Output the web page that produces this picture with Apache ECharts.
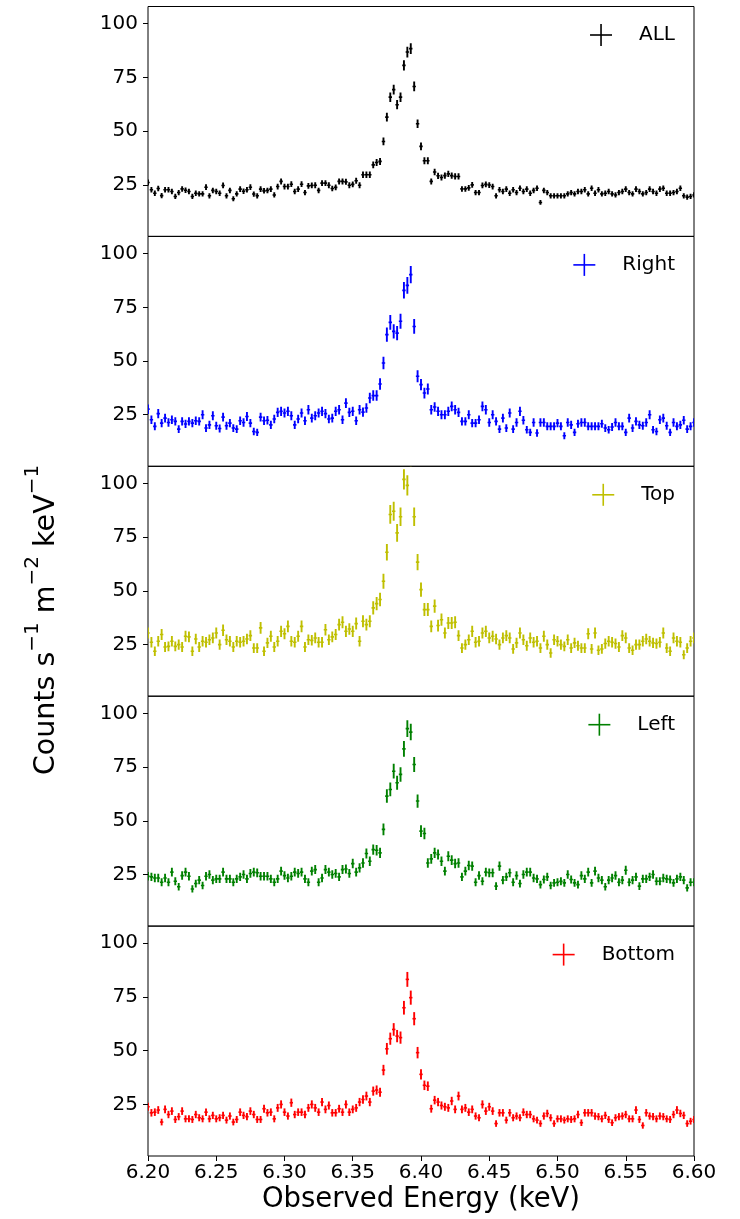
<!DOCTYPE html>
<html>
<head>
<meta charset="utf-8">
<script src="https://cdn.jsdelivr.net/npm/echarts@6/dist/echarts.min.js"></script>
<style>
  html, body { margin: 0; padding: 0; background: #ffffff; }
  #chart { width: 740px; height: 1219px; }
</style>
</head>
<body>
<div id="chart"></div>
<script>
// Energy grid: bin centres from 6.2 to 6.6 keV in 2.5 eV steps
const E_START = 6.2;
const BIN_WIDTH = 0.0025;
const N_BINS = 161;
const energies = Array.from({ length: N_BINS }, (_, i) => +(E_START + i * BIN_WIDTH).toFixed(4));

const xTickLabels = ['6.20', '6.25', '6.30', '6.35', '6.40', '6.45', '6.50', '6.55', '6.60'];
const yTickValues = [25, 50, 75, 100];

const panelNames = ['ALL', 'Right', 'Top', 'Left', 'Bottom'];
const panelColors = ['#000000', '#0000ff', '#bfbf00', '#008000', '#ff0000'];
// 1-sigma scale per region (error = scale * sqrt(flux))
const errScale = [0.27, 0.42, 0.47, 0.40, 0.38];

// Flux spectra, counts s^-1 m^-2 keV^-1
const fluxAll = [
  26.1,22.7,21.1,23.3,20.0,22.7,22.7,21.9,19.6,21.4, 23.1,22.5,21.9,19.6,21.1,20.8,20.8,23.9,19.9,22.4,
  21.9,21.1,24.7,19.9,22.4,18.5,20.8,23.0,22.0,22.7, 23.9,20.7,19.9,23.0,22.2,22.4,23.0,20.3,24.2,26.6,
  24.2,24.2,25.3,21.9,23.0,25.3,21.4,24.5,24.7,24.8, 22.4,25.8,25.8,24.8,23.3,23.8,26.6,26.6,26.4,24.8,
  25.2,26.9,24.8,29.7,29.7,29.7,34.3,35.4,35.9,45.2, 56.5,65.8,69.3,62.3,65.8,80.6,86.8,88.4,70.8,53.4,
  42.9,36.2,36.2,26.6,31.0,29.2,28.4,29.3,30.1,29.3, 28.9,28.9,23.1,23.1,23.6,25.0,21.4,21.4,24.7,25.2,
  24.9,24.2,19.9,22.7,21.9,23.0,21.1,22.7,21.4,23.4, 21.9,23.0,21.1,22.4,23.4,16.8,22.4,21.4,19.9,19.9,
  19.9,19.9,19.9,20.8,21.4,20.8,21.9,21.9,22.7,20.8, 23.4,21.1,22.7,20.8,21.1,21.9,20.8,20.3,21.4,21.9,
  23.0,21.4,20.8,23.0,21.9,20.8,21.4,23.0,21.9,21.1, 23.0,23.4,21.1,21.1,21.4,21.9,23.4,19.9,19.3,19.6,
  20.3
];
const fluxRight = [
  27.6,22.7,19.6,25.5,21.1,23.4,21.4,22.7,21.9,18.3, 21.9,20.7,21.9,21.1,22.2,21.9,25.0,18.8,20.3,24.5,
  19.9,18.6,23.9,19.9,21.1,18.8,18.3,22.2,21.4,24.2, 21.1,17.2,16.8,23.9,22.2,22.4,20.3,23.0,26.1,26.6,
  25.8,26.6,24.5,20.3,23.0,25.8,22.2,27.3,23.4,24.5, 25.8,26.6,25.5,23.0,23.4,26.6,27.3,22.7,30.4,26.1,
  26.6,22.2,27.3,26.2,28.1,32.8,33.9,33.9,39.3,49.1, 62.3,68.0,63.8,63.0,68.5,82.9,85.2,90.2,66.1,42.9,
  39.0,35.1,37.0,27.3,28.6,26.6,25.0,25.0,26.6,28.9, 27.3,26.1,21.9,21.9,25.0,21.1,21.1,22.7,28.9,27.3,
  21.4,25.0,21.9,18.3,23.4,18.8,25.8,18.3,21.4,26.6, 22.4,18.0,16.8,21.4,16.5,21.4,21.4,19.6,19.6,19.6,
  21.1,19.6,15.2,21.4,20.3,16.8,20.8,21.4,21.4,19.6, 19.6,19.6,19.6,20.8,18.8,18.0,19.3,21.4,19.6,19.6,
  16.8,23.4,18.8,21.9,20.3,19.9,21.4,25.0,18.0,17.2, 22.7,23.4,19.9,16.8,21.4,19.6,20.3,22.4,18.3,19.6,
  21.4
];
const fluxTop = [
  30.4,26.1,21.9,26.6,29.7,23.9,24.2,26.6,24.2,25.0, 23.9,28.9,28.6,21.9,27.6,23.9,26.6,26.1,27.3,28.1,
  30.4,25.0,31.7,27.3,26.6,23.9,26.6,26.1,26.6,27.6, 29.2,23.4,23.4,32.8,21.9,25.8,28.9,23.9,26.6,31.2,
  30.1,33.5,26.6,26.1,28.9,33.5,23.9,27.3,27.0,28.1, 26.1,26.1,31.9,27.3,28.6,29.7,34.3,35.4,31.2,32.3,
  31.2,34.8,26.6,35.9,34.3,35.9,42.1,44.1,46.0,54.5, 68.0,85.6,87.1,77.0,84.5,101.9,99.1,113.0,84.5,63.4,
  50.6,41.3,41.3,33.5,42.9,33.9,36.6,30.4,35.1,35.1, 35.4,29.2,23.4,25.0,27.3,31.2,26.1,26.6,30.4,31.2,
  28.1,28.9,27.6,25.0,28.1,29.2,28.1,23.0,25.8,30.4, 27.3,24.5,28.1,26.1,26.6,23.4,28.9,25.0,21.1,27.3,
  26.6,25.0,24.2,27.3,23.4,25.8,24.5,23.4,23.4,30.1, 23.0,30.4,22.4,23.0,25.5,26.6,26.1,25.5,23.9,29.2,
  28.1,23.4,22.4,25.0,25.0,26.6,27.6,26.6,25.8,25.5, 26.1,30.4,23.4,21.9,28.1,26.6,26.1,20.3,23.4,26.6,
  28.1
];
const fluxLeft = [
  24.2,23.9,23.4,23.4,21.4,23.4,21.4,26.1,21.9,19.3, 24.5,26.1,24.2,18.3,20.8,22.4,19.9,24.2,25.0,22.4,
  23.0,23.0,26.1,23.0,23.0,21.4,23.0,23.9,25.0,23.0, 25.5,26.1,25.8,24.2,24.2,24.2,23.0,21.4,23.0,26.6,
  24.5,23.4,24.2,26.1,25.5,26.1,23.0,21.4,26.6,27.3, 21.4,23.4,27.3,26.1,25.0,25.5,23.9,27.3,27.6,25.5,
  30.1,26.1,28.1,30.4,34.8,31.2,36.6,36.3,35.1,46.0, 61.5,64.6,73.1,67.7,71.6,83.5,92.9,91.3,76.2,59.2,
  45.2,44.1,30.4,32.3,35.1,34.3,31.2,26.6,33.5,31.7, 30.1,30.4,23.9,26.6,29.2,28.9,21.4,24.5,21.9,26.1,
  25.8,25.8,19.6,28.9,22.4,23.9,25.8,21.4,24.5,20.8, 25.0,26.1,26.1,23.4,23.0,20.3,22.7,23.9,19.9,21.1,
  21.4,21.9,21.1,25.0,22.7,21.1,20.3,24.5,23.0,26.1, 21.1,26.6,23.4,22.4,19.3,22.4,23.4,24.5,21.4,22.4,
  27.0,21.4,22.4,23.9,19.6,23.0,23.0,23.9,25.0,21.9, 21.9,23.4,23.0,22.7,21.1,23.0,23.9,22.4,18.8,21.4,
  21.4
];
const fluxBottom = [
  23.9,21.1,21.4,22.4,16.8,22.7,20.3,21.9,18.0,19.3, 21.9,18.3,18.3,18.0,20.3,18.8,18.3,21.4,18.3,19.9,
  18.3,18.8,19.9,17.7,19.6,16.8,18.0,21.4,19.9,19.3, 21.9,20.3,18.0,18.0,23.0,21.1,21.4,18.3,23.4,25.0,
  21.4,19.6,25.8,20.3,21.4,21.4,20.3,23.4,25.0,23.4, 21.4,26.1,22.7,24.5,21.1,21.1,23.0,21.4,25.0,21.4,
  22.7,23.4,26.1,27.3,28.9,26.1,31.2,31.7,30.7,41.0, 50.9,55.6,59.9,56.8,56.1,70.0,83.2,74.7,64.9,49.1,
  39.0,33.9,33.5,23.0,27.0,26.1,24.5,23.9,23.4,26.6, 22.7,28.9,22.7,23.4,21.4,22.7,19.6,18.8,25.0,21.9,
  23.9,21.9,16.1,21.1,21.1,17.7,21.1,18.8,19.6,18.8, 21.4,20.3,20.3,18.3,17.7,16.1,19.6,20.8,18.8,16.1,
  18.3,18.3,17.7,18.3,18.0,18.3,20.3,16.5,21.1,21.1, 21.1,19.6,19.3,18.3,19.9,18.0,16.5,18.8,19.3,19.6,
  20.3,18.3,18.3,22.4,18.0,15.2,21.1,19.6,19.3,18.3, 19.6,19.3,18.3,18.0,20.3,22.4,20.8,19.9,16.1,17.2,
  18.0
];
const panelFlux = [fluxAll, fluxRight, fluxTop, fluxLeft, fluxBottom];

// ---- layout ----
const FONT = 'DejaVu Sans';
const GRID_LEFT = 148;
const GRID_RIGHT_EDGE = 694;
const GRID_TOP0 = 6.5;
const PANEL_H = 229.9;
const Y_MIN = 1, Y_MAX = 108;
const BAR_WIDTH = 1.9;

const chart = echarts.init(document.getElementById('chart'), null, { renderer: 'canvas' });

const grids = [], xAxes = [], yAxes = [], series = [], graphics = [];

function measure(text, size) {
  const c = document.createElement('canvas').getContext('2d');
  c.font = size + 'px "' + FONT + '"';
  return c.measureText(text).width;
}

panelNames.forEach((name, p) => {
  const top = GRID_TOP0 + p * PANEL_H;
  const isLast = p === panelNames.length - 1;
  grids.push({
    left: GRID_LEFT, width: GRID_RIGHT_EDGE - GRID_LEFT, top: top, height: PANEL_H,
    show: true, borderColor: '#000', borderWidth: 1, backgroundColor: 'transparent'
  });
  xAxes.push({
    type: 'value', gridIndex: p, min: 6.2, max: 6.6, interval: 0.05,
    axisLine: { show: false },
    splitLine: { show: false },
    axisTick: { show: isLast, length: 5, lineStyle: { color: '#000', width: 1 } },
    axisLabel: {
      show: isLast, fontSize: 20, fontFamily: FONT, color: '#000', margin: 7,
      formatter: v => xTickLabels[Math.round((v - 6.2) / 0.05)] || ''
    }
  });
  yAxes.push({
    type: 'value', gridIndex: p, min: Y_MIN, max: Y_MAX,
    axisLine: { show: false },
    splitLine: { show: false },
    axisTick: { show: true, length: 5, customValues: yTickValues, lineStyle: { color: '#000', width: 1 } },
    axisLabel: { show: true, customValues: yTickValues, fontSize: 20, fontFamily: FONT, color: '#000', margin: 10 }
  });

  const color = panelColors[p];
  const data = panelFlux[p].map((v, i) => [energies[i], v, errScale[p] * Math.sqrt(v)]);
  series.push({
    type: 'custom', name: name, xAxisIndex: p, yAxisIndex: p, clip: true,
    data: data,
    renderItem: function (params, api) {
      const x = api.value(0), y = api.value(1), e = api.value(2);
      const h0 = api.coord([x - BIN_WIDTH / 2, y]);
      const h1 = api.coord([x + BIN_WIDTH / 2, y]);
      const v0 = api.coord([x, y - e]);
      const v1 = api.coord([x, y + e]);
      return {
        type: 'group',
        children: [
          { type: 'line', shape: { x1: h0[0], y1: h0[1], x2: h1[0], y2: h1[1] }, style: { stroke: color, lineWidth: 1.6 } },
          { type: 'line', shape: { x1: v0[0], y1: v0[1], x2: v1[0], y2: v1[1] }, style: { stroke: color, lineWidth: BAR_WIDTH } }
        ]
      };
    },
    silent: true, animation: false
  });

  // legend: error-bar cross followed by the region name
  const textRight = 675;
  const cy = top + 28.5;
  const tw = measure(name, 20);
  const cx = textRight - tw - 38;
  graphics.push(
    { type: 'line', shape: { x1: cx - 11, y1: cy, x2: cx + 11, y2: cy }, style: { stroke: color, lineWidth: 1.6 } },
    { type: 'line', shape: { x1: cx, y1: cy - 11, x2: cx, y2: cy + 11 }, style: { stroke: color, lineWidth: 1.6 } },
    { type: 'text', x: textRight, y: cy, style: { text: name, fontSize: 20, fontFamily: FONT, fill: '#000', align: 'right', verticalAlign: 'middle' } }
  );
});

// axis titles
graphics.push({
  type: 'text', x: (GRID_LEFT + GRID_RIGHT_EDGE) / 2, y: 1200,
  style: { text: 'Observed Energy (keV)', fontSize: 27.5, fontFamily: FONT, fill: '#000', align: 'center', verticalAlign: 'middle' }
});
graphics.push({
  type: 'text', x: 42, y: 620, rotation: Math.PI / 2,
  style: {
    text: '{a|Counts s}{b|\u22121}{a| m}{b|\u22122}{a| keV}{b|\u22121}',
    align: 'center', verticalAlign: 'middle', fill: '#000',
    rich: {
      a: { fontSize: 28.5, fontFamily: FONT, fill: '#000', lineHeight: 38, verticalAlign: 'bottom' },
      b: { fontSize: 20, fontFamily: FONT, fill: '#000', lineHeight: 38, verticalAlign: 'top' }
    }
  }
});

chart.setOption({
  animation: false,
  backgroundColor: '#ffffff',
  grid: grids,
  xAxis: xAxes,
  yAxis: yAxes,
  series: series,
  graphic: graphics
});
</script>
</body>
</html>
